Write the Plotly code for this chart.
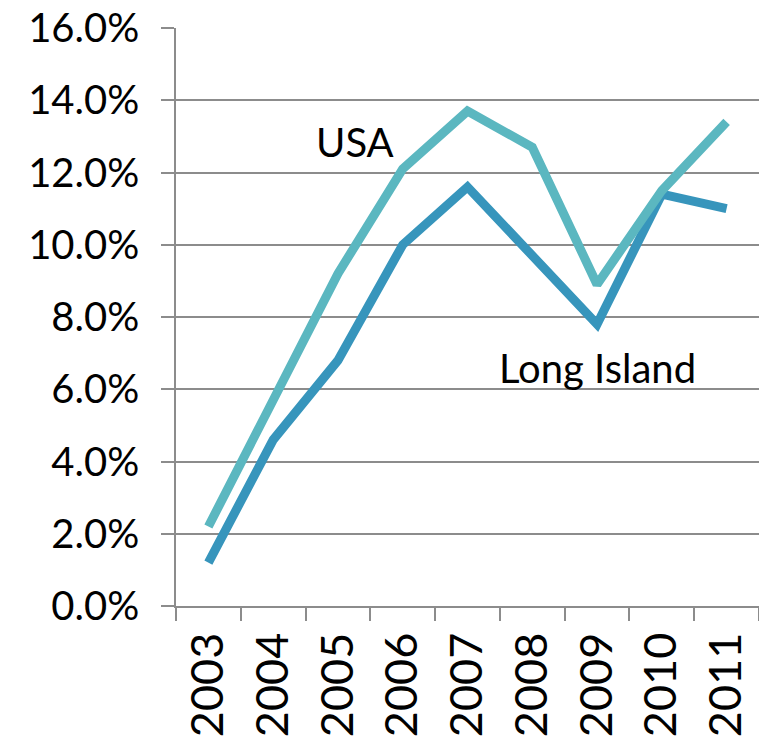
import plotly.graph_objects as go

years = ["2003", "2004", "2005", "2006", "2007", "2008", "2009", "2010", "2011"]
usa = [2.2, 5.7, 9.2, 12.1, 13.7, 12.7, 8.9, 11.5, 13.4]
long_island = [1.2, 4.6, 6.8, 10.0, 11.6, 9.7, 7.8, 11.4, 11.0]
y_ticks = [0, 2, 4, 6, 8, 10, 12, 14, 16]

FONT = "Lato"
fig = go.Figure()
fig.add_trace(go.Scatter(x=years, y=long_island, mode="lines", name="Long Island",
                         line=dict(color="#3795BC", width=9)))
fig.add_trace(go.Scatter(x=years, y=usa, mode="lines", name="USA",
                         line=dict(color="#5BB7C0", width=9)))

# category indices used for annotation positions (years are numeric-like strings)
fig.add_annotation(x=2.26, y=12.85, xref="x", yref="y", text="USA", showarrow=False,
                   xanchor="center", yanchor="middle",
                   font=dict(family=FONT, size=40, color="black"))
fig.add_annotation(x=6.0, y=6.6, xref="x", yref="y", text="Long Island", showarrow=False,
                   xanchor="center", yanchor="middle",
                   font=dict(family=FONT, size=40, color="black"))

fig.update_layout(
    width=759, height=737,
    margin=dict(l=176, r=0, t=28, b=131),
    paper_bgcolor="white", plot_bgcolor="white",
    showlegend=False,
    font=dict(family=FONT, color="black"),
)
fig.update_xaxes(
    type="category", tickson="boundaries", ticks="outside", ticklen=13,
    tickcolor="#8c8c8c", tickwidth=1.5, showgrid=False,
    showline=True, linecolor="#8c8c8c", linewidth=1.5,
    tickangle=-90, tickfont=dict(family=FONT, size=45, color="black"),
    range=[-0.5, 8.5], automargin=False, ticklabelstandoff=7,
)
fig.update_yaxes(
    range=[0, 16], tickvals=y_ticks, ticktext=[f"{v:.1f}%" for v in y_ticks],
    ticks="outside", ticklen=13, tickcolor="#8c8c8c", tickwidth=1.5,
    showgrid=True, gridcolor="#8c8c8c", gridwidth=1.5,
    showline=True, linecolor="#8c8c8c", linewidth=1.5,
    zeroline=False, tickfont=dict(family=FONT, size=40, color="black"),
    ticklabelstandoff=14, automargin=False,
)
fig.write_html("out.html", config={"displayModeBar": False},
               post_script="document.body.style.margin='0';document.body.style.overflow='hidden';")
